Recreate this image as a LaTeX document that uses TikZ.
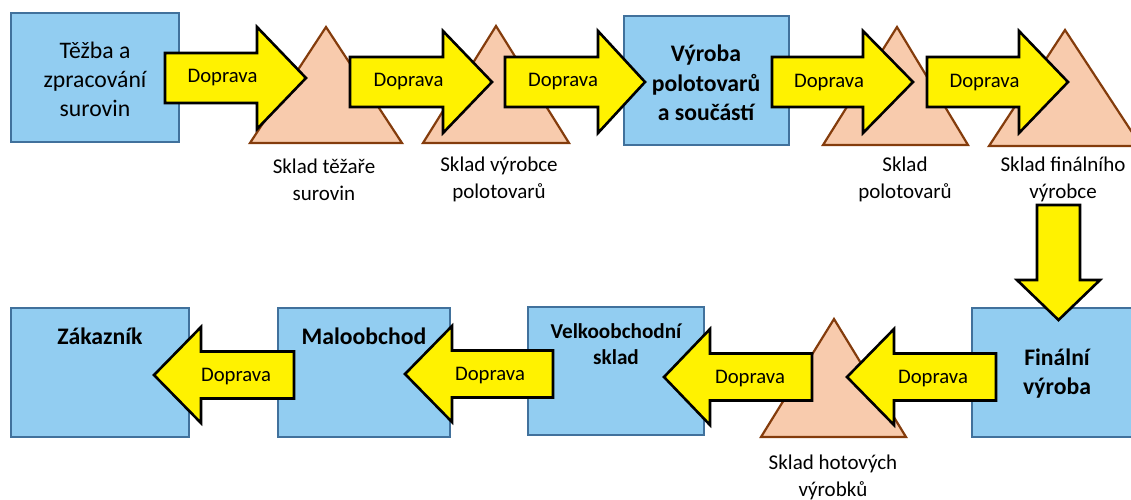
\documentclass[tikz,border=0pt]{standalone}
\usepackage{fontspec}
\setmainfont{Carlito}
\definecolor{boxfill}{HTML}{92CDF1}
\definecolor{boxline}{HTML}{41719C}
\definecolor{trifill}{HTML}{F8CBAD}
\definecolor{triline}{HTML}{843C0C}
\tikzset{
  box/.style={draw=boxline, fill=boxfill, line width=2pt, inner sep=0pt},
  tri/.style={draw=triline, fill=trifill, line width=2.2pt, line join=miter},
  arr/.style={draw=black, fill=yellow, line width=2.6pt, line join=miter},
  dlbl/.style={font=\fontsize{20.7}{25}\selectfont, inner sep=0pt},
  slbl/.style={font=\fontsize{21}{27}\selectfont, align=center, inner sep=0pt},
  blbl/.style={font=\fontsize{23.7}{29.5}\selectfont\bfseries, align=center, inner sep=0pt},
  rlbl/.style={font=\fontsize{23.7}{29}\selectfont, align=center, inner sep=0pt},
}
% horizontal block arrow: tail x, head x, tip x, centre y, shaft half, head half
\newcommand\hblock[6]{%
  \draw[arr] (#1,#4-#5) -- (#2,#4-#5) -- (#2,#4-#6) -- (#3,#4) -- (#2,#4+#6) -- (#2,#4+#5) -- (#1,#4+#5) -- cycle;}
\begin{document}
\begin{tikzpicture}[x=1pt,y=-1pt]
\useasboundingbox (0,0) rectangle (1131,499);
\clip (0,0) rectangle (1131,499);
% boxes
\node[box, minimum width=168pt, minimum height=129pt] (tez) at (95,77.5) {};
\node[box, minimum width=165pt, minimum height=129pt] (vyr) at (706.5,80.5) {};
\node[box, minimum width=178pt, minimum height=129pt] (zak) at (100,372.5) {};
\node[box, minimum width=172pt, minimum height=129pt] (malo) at (364,372.5) {};
\node[box, minimum width=176pt, minimum height=128pt] (velko) at (616,371) {};
\node[box, minimum width=170pt, minimum height=129pt] (fin) at (1057,372.5) {};
% triangles (warehouses)
\draw[tri] (250,143) -- (326,27) -- (402,143) -- cycle;
\draw[tri] (423,143) -- (496,26) -- (569,143) -- cycle;
\draw[tri] (823,145) -- (897,27) -- (968,145) -- cycle;
\draw[tri] (989,146) -- (1065,30) -- (1141,146) -- cycle;
\draw[tri] (761,437) -- (834,319) -- (906,437) -- cycle;
% block arrows
\hblock{165}{257}{306}{78}{25}{51}
\hblock{350}{443}{492}{82}{25}{51}
\hblock{505}{598}{645}{82}{25}{51}
\hblock{772}{863}{913}{82}{25}{51}
\hblock{927}{1019}{1068}{82}{25}{51}
\draw[arr] (1037,205) -- (1080,205) -- (1080,280) -- (1100,280) -- (1058.5,320) -- (1017,280) -- (1037,280) -- cycle;
\hblock{996}{894}{847}{377}{23.5}{48}
\hblock{812}{710}{664}{377}{23.5}{48}
\hblock{553}{452}{405}{374}{23.5}{48}
\hblock{294}{201}{154}{375}{23.5}{48}
% arrow labels
\node[dlbl] (d1) at (222.5,78) {Doprava};
\node[dlbl] (d2) at (408.5,82) {Doprava};
\node[dlbl] (d3) at (563,82) {Doprava};
\node[dlbl] (d4) at (829,83) {Doprava};
\node[dlbl] (d5) at (984.5,83) {Doprava};
\node[dlbl] (d6) at (933,379) {Doprava};
\node[dlbl] (d7) at (750,379) {Doprava};
\node[dlbl] (d8) at (490,376) {Doprava};
\node[dlbl] (d9) at (236,377) {Doprava};
% box labels
\node[rlbl] (tezt) at (95,79) {Těžba a\\zpracování\\surovin};
\node[blbl] (vyrt) at (706,83) {Výroba\\polotovarů\\a součástí};
\node[blbl] (zakt) at (100,336) {Zákazník};
\node[blbl] (malot) at (364,336) {Maloobchod};
\node[blbl, font=\fontsize{21.2}{26}\selectfont\bfseries] (velkot) at (616,344) {Velkoobchodní\\sklad};
\node[blbl] (fint) at (1057,373.5) {Finální\\výroba};
% warehouse labels
\node[slbl] (s1) at (324,179.5) {Sklad těžaře\\surovin};
\node[slbl] (s2) at (499,179.5) {Sklad výrobce\\polotovarů};
\node[slbl] (s3) at (905,179.5) {Sklad\\polotovarů};
\node[slbl] (s4) at (1063,179.5) {Sklad finálního\\výrobce};
\node[slbl] (s5) at (833,477.5) {Sklad hotových\\výrobků};
\end{tikzpicture}
\end{document}
